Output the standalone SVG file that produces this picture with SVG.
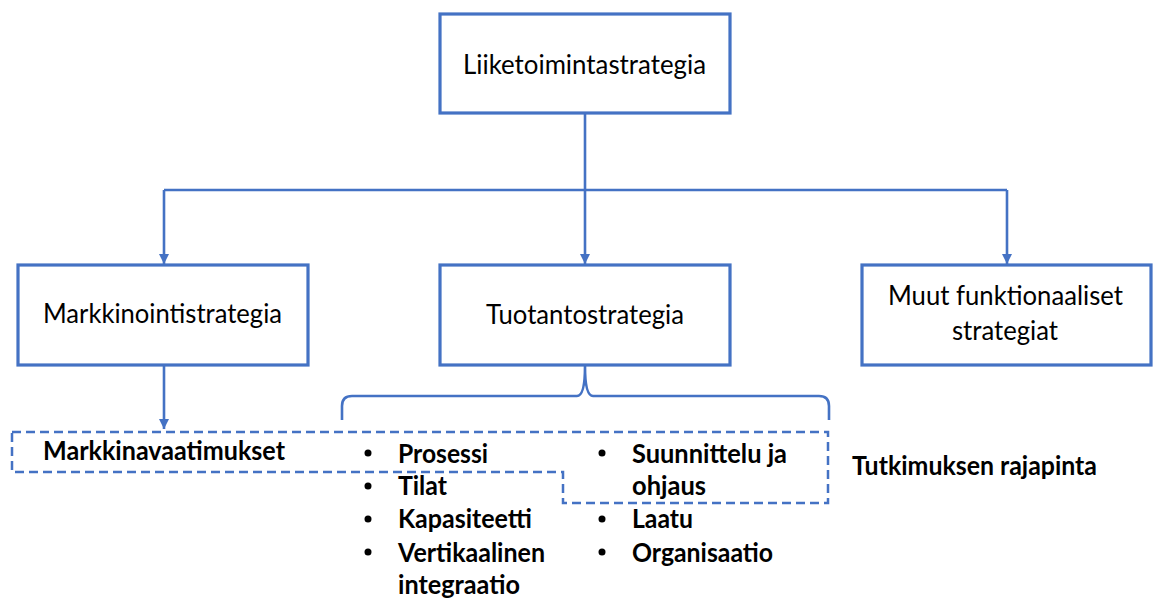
<svg xmlns="http://www.w3.org/2000/svg" width="1154" height="599" viewBox="0 0 1154 599">
  <style>
    .box { fill: #ffffff; stroke: #4472C4; stroke-width: 3.2; }
    .link { fill: none; stroke: #4472C4; stroke-width: 2.6; }
    .dash { fill: none; stroke: #4472C4; stroke-width: 2.5; stroke-dasharray: 9 5; }
    .t { font-family: Lato, "Open Sans", "Liberation Sans", sans-serif; font-size: 26px; fill: #000000; }
    .b { font-family: Lato, "Open Sans", "Liberation Sans", sans-serif; font-size: 26px; font-weight: bold; fill: #000000; }
    .dot { fill: #000000; }
  </style>
  <defs>
    <marker id="arrow" viewBox="0 0 10 10" refX="10" refY="5" markerWidth="10" markerHeight="11" markerUnits="userSpaceOnUse" orient="auto">
      <path d="M0,0 L10,5 L0,10 Z" fill="#4472C4"/>
    </marker>
  </defs>

  <!-- connectors -->
  <g id="connectors">
    <path class="link" d="M585,113 V190"/>
    <path class="link" d="M164,190 H1007"/>
    <path class="link" d="M164,190 V264" marker-end="url(#arrow)"/>
    <path class="link" d="M585,190 V264" marker-end="url(#arrow)"/>
    <path class="link" d="M1007,190 V264" marker-end="url(#arrow)"/>
    <path class="link" d="M164,365 V429" marker-end="url(#arrow)"/>
    <!-- curly brace under the production strategy -->
    <path class="link" d="M342,420 V406 Q342,396 352,396 H577 Q585,396 585,366 Q585,396 593,396 H819 Q829,396 829,406 V420"/>
  </g>

  <!-- study boundary (dashed outline) -->
  <g id="boundary">
    <path class="dash" d="M12,432 H828 V503 H563 V472 H12 Z"/>
  </g>

  <g id="node-liiketoiminta">
    <rect class="box" x="440" y="14" width="290" height="99"/>
    <text class="t" x="463" y="74" textLength="243" lengthAdjust="spacingAndGlyphs">Liiketoimintastrategia</text>
  </g>

  <g id="node-markkinointi">
    <rect class="box" x="18" y="265" width="290" height="100"/>
    <text class="t" x="43" y="323" textLength="239" lengthAdjust="spacingAndGlyphs">Markkinointistrategia</text>
  </g>

  <g id="node-tuotanto">
    <rect class="box" x="440" y="265" width="290" height="100"/>
    <text class="t" x="486" y="324" textLength="198" lengthAdjust="spacingAndGlyphs">Tuotantostrategia</text>
  </g>

  <g id="node-muut">
    <rect class="box" x="862" y="265" width="289" height="100"/>
    <text class="t" x="888" y="305" textLength="235" lengthAdjust="spacingAndGlyphs">Muut funktionaaliset</text>
    <text class="t" x="952" y="340" textLength="106" lengthAdjust="spacingAndGlyphs">strategiat</text>
  </g>

  <g id="node-markkinavaatimukset">
    <text class="b" x="43" y="460" textLength="242" lengthAdjust="spacingAndGlyphs">Markkinavaatimukset</text>
  </g>

  <g id="list-left">
    <circle class="dot" cx="368" cy="453" r="3.5"/>
    <text class="b" x="398" y="463" textLength="90" lengthAdjust="spacingAndGlyphs">Prosessi</text>
    <circle class="dot" cx="368" cy="486" r="3.5"/>
    <text class="b" x="398" y="495" textLength="49" lengthAdjust="spacingAndGlyphs">Tilat</text>
    <circle class="dot" cx="368" cy="519" r="3.5"/>
    <text class="b" x="398" y="528" textLength="134" lengthAdjust="spacingAndGlyphs">Kapasiteetti</text>
    <circle class="dot" cx="368" cy="552" r="3.5"/>
    <text class="b" x="398" y="562" textLength="147" lengthAdjust="spacingAndGlyphs">Vertikaalinen</text>
    <text class="b" x="398" y="594" textLength="122" lengthAdjust="spacingAndGlyphs">integraatio</text>
  </g>

  <g id="list-right">
    <circle class="dot" cx="602" cy="453" r="3.5"/>
    <text class="b" x="632" y="463" textLength="155" lengthAdjust="spacingAndGlyphs">Suunnittelu ja</text>
    <text class="b" x="632" y="495" textLength="74" lengthAdjust="spacingAndGlyphs">ohjaus</text>
    <circle class="dot" cx="602" cy="519" r="3.5"/>
    <text class="b" x="632" y="528" textLength="61" lengthAdjust="spacingAndGlyphs">Laatu</text>
    <circle class="dot" cx="602" cy="552" r="3.5"/>
    <text class="b" x="632" y="562" textLength="141" lengthAdjust="spacingAndGlyphs">Organisaatio</text>
  </g>

  <g id="label-rajapinta">
    <text class="b" x="852" y="475" textLength="245" lengthAdjust="spacingAndGlyphs">Tutkimuksen rajapinta</text>
  </g>
</svg>
